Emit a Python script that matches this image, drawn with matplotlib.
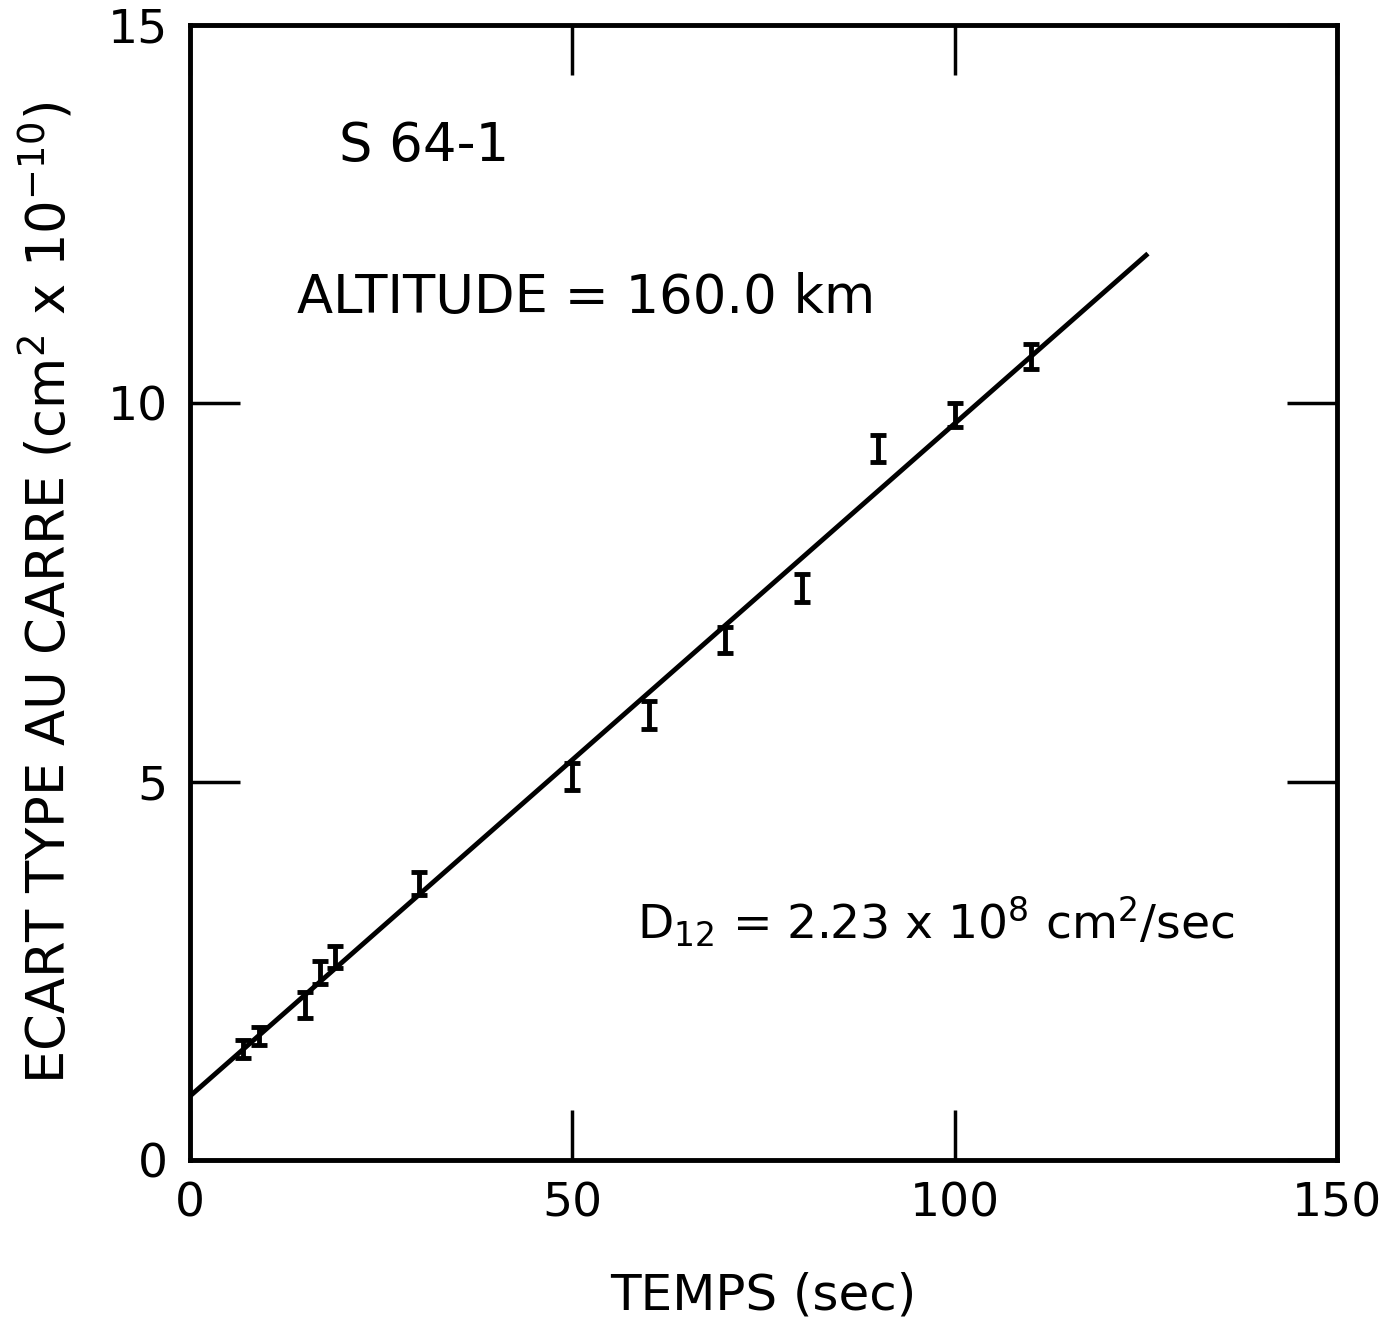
import numpy as np
import matplotlib.pyplot as plt

plt.rcParams['font.family'] = ['DejaVu Sans']

# measured points (temps in sec, ecart type au carre in 1e-10 cm^2)
temps = [7, 9, 15, 17, 19, 30, 50, 60, 70, 80, 90, 100, 110]
ecart = [1.46, 1.64, 2.05, 2.48, 2.68, 3.65, 5.07, 5.88, 6.87, 7.56, 9.40, 9.85, 10.62]
err = [0.12, 0.12, 0.17, 0.15, 0.15, 0.15, 0.18, 0.18, 0.17, 0.18, 0.18, 0.16, 0.17]

# fitted line end points
fit_x = [0, 125]
fit_y = [0.84, 11.96]

fig = plt.figure(figsize=(13.96, 13.30), dpi=100)
ax = fig.add_axes([0.136, 0.128, 0.822, 0.853])

ax.plot(fit_x, fit_y, color='black', lw=3.5)
ax.errorbar(temps, ecart, yerr=err, fmt='none', ecolor='black', elinewidth=3.5,
            capsize=6, capthick=3.5)

ax.set_xlim(0, 150)
ax.set_ylim(0, 15)
ax.set_xticks([0, 50, 100, 150])
ax.set_yticks([0, 5, 10, 15])
ax.tick_params(direction='in', length=36, width=2.5, top=True, right=True,
               labelsize=34, pad=16)
for s in ax.spines.values():
    s.set_linewidth(3.5)

ax.text(19.5, 13.4, 'S 64-1', fontsize=38, va='center')
ax.text(14, 11.4, 'ALTITUDE = 160.0 km', fontsize=38, va='center')
ax.text(58.5, 3.15, r'D$_{12}$ = 2.23 x 10$^{8}$ cm$^{2}$/sec', fontsize=34, va='center')

ax.set_xlabel('TEMPS (sec)', fontsize=36, labelpad=32)
ax.set_ylabel(r'ECART TYPE AU CARRE (cm$^{2}$ x 10$^{-10}$)', fontsize=38, labelpad=22)

fig.savefig('out.png', dpi=100)
